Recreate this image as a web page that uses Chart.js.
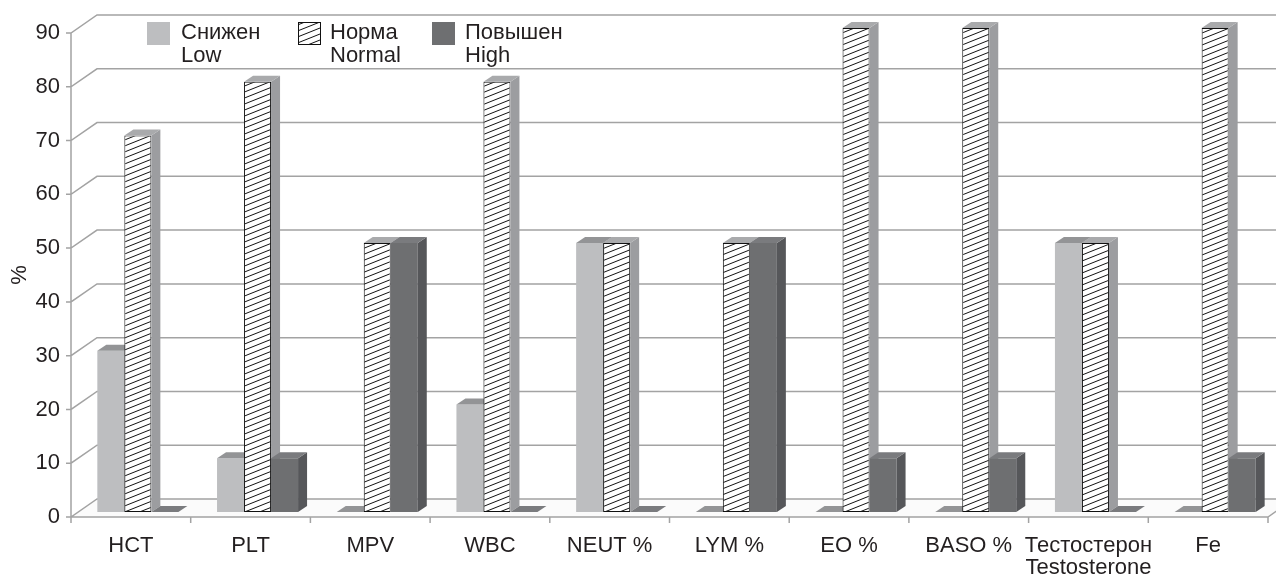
<!DOCTYPE html>
<html>
<head>
<meta charset="utf-8">
<script src="https://cdn.jsdelivr.net/npm/chart.js@4.4.1/dist/chart.umd.min.js"></script>
<style>
  html, body { margin: 0; padding: 0; background: #ffffff; }
  canvas { display: block; }
</style>
</head>
<body>
<canvas id="chart" width="1276" height="574"></canvas>
<script>
// ---- data ----
const categories = ['HCT', 'PLT', 'MPV', 'WBC', 'NEUT %', 'LYM %', 'EO %', 'BASO %', ['Тестостерон', 'Testosterone'], 'Fe'];
const lowValues    = [30, 10,  0, 20, 50,  0,  0,  0, 50,  0];
const normalValues = [70, 80, 50, 80, 50, 50, 90, 90, 50, 90];
const highValues   = [ 0, 10, 50,  0,  0, 50, 10, 10,  0, 10];
const seriesLabels = [['Снижен', 'Low'], ['Норма', 'Normal'], ['Повышен', 'High']];
const yTickValues  = [0, 10, 20, 30, 40, 50, 60, 70, 80, 90];
const yAxisTitle   = '%';

// ---- styling ----
const FONT = "'Liberation Sans', Arial, sans-serif";
const TEXT_COLOR = '#231f20';
const FRAME_COLOR = '#a3a3a3';
const WALL = { dx: 26, dy: -18 };      // depth of the back wall
const BAR_SHIFT = { dx: 7, dy: -5 };   // bar row sits a little behind the front edge
const BAR_DEPTH = { dx: 9, dy: -6 };   // depth of each bar box

function makeHatch() {
  const w = 15, h = 6;
  const t = document.createElement('canvas');
  t.width = w; t.height = h;
  const g = t.getContext('2d');
  g.fillStyle = '#ffffff';
  g.fillRect(0, 0, w, h);
  g.strokeStyle = '#111111';
  g.lineWidth = 1;
  g.beginPath();
  for (const k of [-1, 0, 1]) {
    g.moveTo(-w, 2 * h + k * h);
    g.lineTo(2 * w, -h + k * h);
  }
  g.stroke();
  return document.getElementById('chart').getContext('2d').createPattern(t, 'repeat');
}
const hatch = makeHatch();

const faces = [
  { front: '#bdbec0', side: '#a4a5a7', top: '#939496' },
  { front: hatch,     side: '#9c9da0', top: '#a9aaac' },
  { front: '#6e6f71', side: '#56575a', top: '#7a7b7e' }
];

function poly(ctx, pts, fill) {
  ctx.beginPath();
  ctx.moveTo(pts[0][0], pts[0][1]);
  for (let i = 1; i < pts.length; i++) ctx.lineTo(pts[i][0], pts[i][1]);
  ctx.closePath();
  ctx.fillStyle = fill;
  ctx.fill();
}

// Back wall, left wall, floor and axis ticks
const framePlugin = {
  id: 'frame3d',
  beforeDatasetsDraw(chart) {
    const { ctx, chartArea: a, scales: { y } } = chart;
    ctx.save();
    poly(ctx, [[a.left, a.bottom], [a.right, a.bottom], [a.right + WALL.dx, a.bottom + WALL.dy], [a.left + WALL.dx, a.bottom + WALL.dy]], '#fbfbfb');
    ctx.strokeStyle = FRAME_COLOR;
    ctx.lineWidth = 1.5;
    ctx.beginPath();
    for (const v of yTickValues) {
      const py = y.getPixelForValue(v);
      ctx.moveTo(a.left - 5, py);
      ctx.lineTo(a.left, py);
      ctx.lineTo(a.left + WALL.dx, py + WALL.dy);
      ctx.lineTo(chart.width + WALL.dx, py + WALL.dy);
    }
    ctx.moveTo(a.left, a.top);
    ctx.lineTo(a.left, a.bottom);
    ctx.lineTo(a.right, a.bottom);
    ctx.lineTo(a.right + WALL.dx, a.bottom + WALL.dy);
    const n = categories.length;
    for (let i = 0; i <= n; i++) {
      const bx = a.left + (a.right - a.left) * i / n;
      ctx.moveTo(bx, a.bottom);
      ctx.lineTo(bx, a.bottom + 6);
    }
    ctx.stroke();
    ctx.restore();
  }
};

// Draws the bar row shifted back, series left to right, each bar with side and top faces
const boxPlugin = {
  id: 'box3d',
  beforeDatasetDraw() {
    return false; // bars are painted below, in front-to-back order
  },
  afterDatasetsDraw(chart) {
    const ctx = chart.ctx;
    ctx.save();
    ctx.translate(BAR_SHIFT.dx, BAR_SHIFT.dy);
    chart.data.datasets.forEach((d, i) => {
      const meta = chart.getDatasetMeta(i);
      const f = faces[i];
      for (const el of meta.data) {
        el.draw(ctx, chart.chartArea);
        const { x, y, base, width } = el.getProps(['x', 'y', 'base', 'width'], true);
        const l = x - width / 2, r = x + width / 2;
        const dx = BAR_DEPTH.dx, dy = BAR_DEPTH.dy;
        poly(ctx, [[r, y], [r + dx, y + dy], [r + dx, base + dy], [r, base]], f.side);
        poly(ctx, [[l, y], [l + dx, y + dy], [r + dx, y + dy], [r, y]], f.top);
      }
    });
    ctx.restore();
  }
};

// Two-line legend along the top
const legendPlugin = {
  id: 'legend2',
  afterDraw(chart) {
    const ctx = chart.ctx;
    const items = [{ sx: 147, tx: 181 }, { sx: 298, tx: 330 }, { sx: 432, tx: 465 }];
    ctx.save();
    ctx.font = '22px ' + FONT;
    ctx.textBaseline = 'alphabetic';
    items.forEach((it, i) => {
      ctx.fillStyle = faces[i].front;
      ctx.fillRect(it.sx, 22, 23, 23);
      if (i === 1) {
        ctx.strokeStyle = '#111';
        ctx.lineWidth = 1;
        ctx.strokeRect(it.sx + 0.5, 22.5, 22, 22);
      }
      ctx.fillStyle = TEXT_COLOR;
      ctx.fillText(seriesLabels[i][0], it.tx, 39);
      ctx.fillText(seriesLabels[i][1], it.tx, 62);
    });
    ctx.restore();
  }
};

const ds = (values, i, extra) => Object.assign({
  label: seriesLabels[i].join(' '),
  data: values,
  backgroundColor: faces[i].front,
  borderWidth: 0,
  borderSkipped: false,
  clip: false
}, extra || {});

new Chart(document.getElementById('chart'), {
  type: 'bar',
  data: {
    labels: categories,
    datasets: [
      ds(lowValues, 0),
      ds(normalValues, 1, { borderWidth: 1, borderColor: '#111111' }),
      ds(highValues, 2)
    ]
  },
  options: {
    responsive: false,
    animation: false,
    events: [],
    categoryPercentage: 0.677,
    barPercentage: 1.0,
    layout: { padding: { top: 33, right: 8, left: 0, bottom: 0 } },
    plugins: { legend: { display: false }, tooltip: { enabled: false } },
    scales: {
      x: {
        type: 'category',
        offset: true,
        grid: { display: false, drawTicks: false },
        border: { display: false },
        ticks: { color: TEXT_COLOR, font: { family: FONT, size: 22, lineHeight: 1.0 }, padding: 18, maxRotation: 0, autoSkip: false },
        afterFit(s) { s.height = 57; }
      },
      y: {
        min: 0, max: 90,
        afterBuildTicks(s) { s.ticks = yTickValues.map(v => ({ value: v })); },
        grid: { display: false, drawTicks: false },
        border: { display: false },
        ticks: { color: TEXT_COLOR, font: { family: FONT, size: 22 }, padding: 11 },
        title: { display: true, text: yAxisTitle, color: TEXT_COLOR, font: { family: FONT, size: 22 }, padding: { top: 7, bottom: 0 } },
        afterFit(s) { s.width = 71; }
      }
    }
  },
  plugins: [framePlugin, boxPlugin, legendPlugin]
});
</script>
</body>
</html>
